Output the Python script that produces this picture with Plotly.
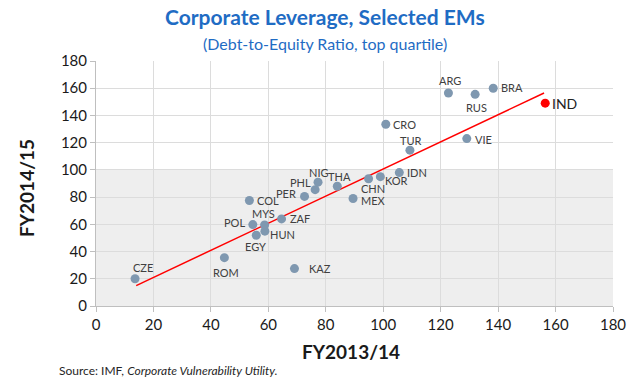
import plotly.graph_objects as go

countries = ["CZE","ROM","KAZ","EGY","HUN","MYS","POL","ZAF","COL","PER","PHL","NIG","THA",
             "MEX","CHN","KOR","IDN","TUR","CRO","VIE","ARG","RUS","BRA"]
fy1314 = [13.6,44.7,69.1,55.8,58.8,58.7,54.6,64.6,53.4,72.6,76.3,77.3,84.0,
          89.5,94.9,99.0,105.6,109.3,100.9,129.1,122.7,132.0,138.3]
fy1415 = [20.0,35.5,27.5,52.0,55.0,59.5,59.8,64.0,77.5,80.5,85.5,91.0,88.0,
          79.0,93.5,95.0,98.0,114.5,133.5,123.0,156.5,155.5,160.0]
ind_x = [156.4]
ind_y = [149.0]
trend_x = [14, 156]
trend_y = [15, 156.5]
ticks = [0,20,40,60,80,100,120,140,160,180]

# label offsets in pixels (style, not data)
label_offsets = {
    "CZE": (8, 11), "ROM": (2, -15), "KAZ": (26, 0), "EGY": (-1, -11), "HUN": (18, -3),
    "MYS": (-1, 12), "POL": (-18, 2), "ZAF": (18, 0), "COL": (19, 0), "PER": (-19, 3),
    "PHL": (-15, 7), "NIG": (1, 10), "THA": (2, 10), "MEX": (20, -2), "CHN": (4, -10),
    "KOR": (16, -4), "IDN": (18, 0), "TUR": (1, 10), "CRO": (19, 0), "VIE": (17, -1),
    "ARG": (2, 12), "RUS": (1, -13), "BRA": (19, 1),
}

FONT = "Lato"
fig = go.Figure()
fig.add_shape(type="rect", xref="x", yref="y", x0=0, x1=180, y0=0, y1=100,
              fillcolor="#eeeeee", line=dict(width=0), layer="below")
fig.add_trace(go.Scatter(x=trend_x, y=trend_y, mode="lines",
                         line=dict(color="#ff0000", width=1.5), hoverinfo="skip"))
fig.add_trace(go.Scatter(x=fy1314, y=fy1415, mode="markers",
                         marker=dict(color="#7f98b0", size=9)))
fig.add_trace(go.Scatter(x=ind_x, y=ind_y, mode="markers",
                         marker=dict(color="#ff0000", size=9)))

annotations = []
for c, x, y in zip(countries, fy1314, fy1415):
    dx, dy = label_offsets[c]
    annotations.append(dict(text=c, x=x, y=y, xref="x", yref="y", showarrow=False,
                            xshift=dx, yshift=dy, xanchor="center", yanchor="middle",
                            font=dict(family=FONT, size=11, color="#404040")))
annotations.append(dict(text="IND", x=ind_x[0], y=ind_y[0], xref="x", yref="y", showarrow=False,
                        xshift=19, yshift=0, xanchor="center", yanchor="middle",
                        font=dict(family=FONT, size=14, color="#222222")))
annotations += [
    dict(text="<b>Corporate Leverage, Selected EMs</b>", xref="paper", yref="paper",
         x=(325 - 96) / 517, y=1, yshift=44.5, showarrow=False, xanchor="center", yanchor="middle",
         font=dict(family=FONT, size=21, color="#1f6cc4")),
    dict(text="(Debt-to-Equity Ratio, top quartile)", xref="paper", yref="paper",
         x=(325 - 96) / 517, y=1, yshift=17.5, showarrow=False, xanchor="center", yanchor="middle",
         font=dict(family=FONT, size=16, color="#1f6cc4")),
    dict(text="<b>FY2013/14</b>", xref="paper", yref="paper",
         x=(351 - 96) / 517, y=0, yshift=-45.5, showarrow=False, xanchor="center", yanchor="middle",
         font=dict(family=FONT, size=19, color="#1a1a1a")),
    dict(text="<b>FY2014/15</b>", xref="paper", yref="paper", textangle=-90,
         x=0, xshift=-69, y=(306.5 - 188) / 246, showarrow=False, xanchor="center", yanchor="middle",
         font=dict(family=FONT, size=19, color="#1a1a1a")),
    dict(text="Source: IMF, <i>Corporate Vulnerability Utility.</i>", xref="paper", yref="paper",
         x=0, xshift=-39, y=0, yshift=-64.5, showarrow=False, xanchor="left", yanchor="middle",
         font=dict(family=FONT, size=12, color="#262626")),
]

fig.update_layout(
    width=640, height=389, showlegend=False,
    plot_bgcolor="rgba(0,0,0,0)", paper_bgcolor="white",
    margin=dict(l=96, r=27, t=60.5, b=82.5),
    font=dict(family=FONT, color="#262626"),
    annotations=annotations,
)
fig.update_xaxes(range=[0,180], tickvals=ticks, showgrid=True, gridcolor="#dcdcdc", automargin=False,
                 showline=True, linecolor="#bfbfbf", ticks="outside", ticklen=5, tickcolor="#bfbfbf",
                 tickfont=dict(family=FONT, size=15, color="#1a1a1a"), zeroline=False)
fig.update_yaxes(range=[0,180], tickvals=ticks, showgrid=True, gridcolor="#dcdcdc", automargin=False,
                 showline=True, linecolor="#bfbfbf", ticks="outside", ticklen=5, tickcolor="#bfbfbf",
                 tickfont=dict(family=FONT, size=15, color="#1a1a1a"), zeroline=False)
fig.write_html("out.html", config={"displayModeBar": False},
               post_script="document.body.style.margin='0';document.body.style.overflow='hidden';")
